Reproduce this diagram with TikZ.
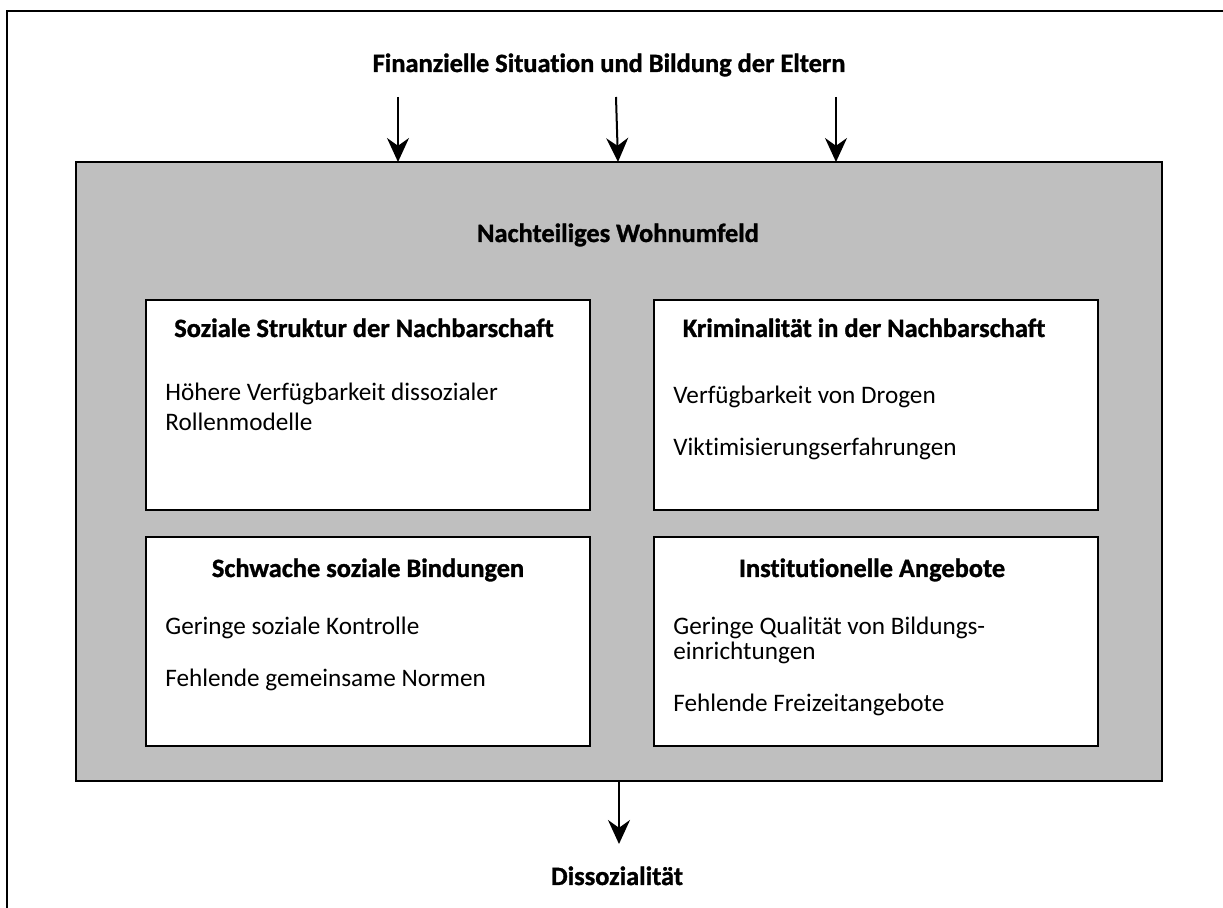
\documentclass[tikz,border=0pt]{standalone}
\usepackage{fontspec}
\setmainfont{Carlito}[Ligatures=NoCommon, BoldFeatures={FakeBold=1.2}]
\usetikzlibrary{arrows.meta}
\newcommand{\panelcolor}{black!25!white}
\newcommand{\boxw}{222pt}
\newcommand{\boxh}{105pt}

\begin{document}
\begin{tikzpicture}[x=0.5pt, y=-0.5pt, >={Stealth[length=12pt,width=11pt]},
    panel/.style={draw, fill=\panelcolor, line width=1pt, inner sep=0pt, outer sep=0pt},
    inbox/.style={draw, fill=white, line width=1pt, inner sep=0pt, outer sep=0pt,
        minimum width=\boxw, minimum height=\boxh},
    head/.style={font=\bfseries\fontsize{13.2pt}{15pt}\selectfont, anchor=base, inner sep=0pt},
    item/.style={font=\fontsize{12.6pt}{15pt}\selectfont, anchor=base west, inner sep=0pt},
    flow/.style={->, line width=1pt}]
        \useasboundingbox (0,0) rectangle (1223,908);

        % frame
        \draw[line width=1.3pt] (1223,11) -- (7,11) -- (7,908);

        % panel
        \node[panel, minimum width=543pt, minimum height=309.5pt] (umfeld) at (619,471.5) {};
        \node[head] (umfeldtitle) at (618,242) {Nachteiliges Wohnumfeld};

        % boxes
        \node[inbox] (struktur) at (368,405) {};
        \node[inbox] (krim) at (876,405) {};
        \node[inbox, minimum height=104.5pt] (bindung) at (368,641.5) {};
        \node[inbox, minimum height=104.5pt] (angebot) at (876,641.5) {};

        % box labels
        \node[head] (strukturtitle) at (364,337) {Soziale Struktur der Nachbarschaft};
        \node[item] (struktur1) at (165,401) {Höhere Verfügbarkeit dissozialer};
        \node[item] (struktur2) at (165,431) {Rollenmodelle};

        \node[head] (krimtitle) at (864,337) {Kriminalität in der Nachbarschaft};
        \node[item] (krim1) at (673,404) {Verfügbarkeit von Drogen};
        \node[item] (krim2) at (673,456) {Viktimisierungserfahrungen};

        \node[head] (bindungtitle) at (368,577) {Schwache soziale Bindungen};
        \node[item] (bindung1) at (165,635) {Geringe soziale Kontrolle};
        \node[item] (bindung2) at (165,687) {Fehlende gemeinsame Normen};

        \node[head] (angebottitle) at (872,577) {Institutionelle Angebote};
        \node[item] (angebot1) at (673,635) {Geringe Qualität von Bildungs-};
        \node[item] (angebot2) at (673,660) {einrichtungen};
        \node[item] (angebot3) at (673,712) {Fehlende Freizeitangebote};

        % input and output
        \node[head] (eltern) at (609,72) {Finanzielle Situation und Bildung der Eltern};
        \node[head] (diss) at (617,885) {Dissozialität};

        \coordinate (in1) at (398,97);
        \coordinate (in2) at (616,97);
        \coordinate (in3) at (836,97);
        \coordinate (outtip) at (619,844);

        % arrows
        \draw[flow] (in1) -- (umfeld.north -| in1);
        \draw[flow] (in2) -- ([xshift=1pt]umfeld.north -| in2);
        \draw[flow] (in3) -- (umfeld.north -| in3);
        \draw[flow] (umfeld.south -| outtip) -- (outtip);
    \end{tikzpicture}
\end{document}
